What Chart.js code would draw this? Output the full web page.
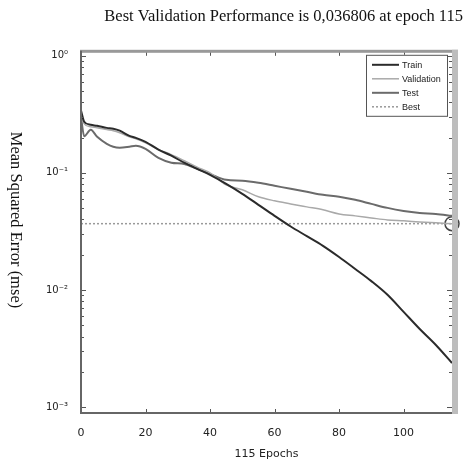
<!DOCTYPE html>
<html>
<head>
<meta charset="utf-8">
<script src="https://cdn.jsdelivr.net/npm/chart.js@4.4.0/dist/chart.umd.min.js"></script>
<style>
  html, body { margin: 0; padding: 0; background: #fff; }
  #wrap { width: 475px; height: 465px; }
</style>
</head>
<body>
<div id="wrap"><canvas id="perf"></canvas></div>
<script>
// --- Data ---
const epochs = [0, 1, 3, 5, 8, 10, 12, 15, 17, 20, 24, 28, 32, 36, 40, 45, 50, 55, 60, 65, 70, 75, 80, 85, 90, 95, 100, 105, 110, 115];
const trainMse = [0.34, 0.273, 0.257, 0.252, 0.242, 0.238, 0.229, 0.207, 0.199, 0.184, 0.158, 0.140, 0.122, 0.108, 0.0961, 0.0805, 0.0662, 0.0533, 0.0429, 0.0348, 0.0288, 0.0238, 0.0191, 0.0151, 0.0119, 0.0091, 0.0065, 0.00464, 0.00339, 0.00238];
const validationMse = [0.32, 0.262, 0.247, 0.243, 0.234, 0.229, 0.220, 0.203, 0.195, 0.180, 0.158, 0.143, 0.127, 0.112, 0.100, 0.0789, 0.0716, 0.0624, 0.0577, 0.0543, 0.0512, 0.0483, 0.0446, 0.0429, 0.0412, 0.0396, 0.0389, 0.0381, 0.0374, 0.036806];
const testMse = [0.30, 0.205, 0.233, 0.203, 0.177, 0.167, 0.164, 0.167, 0.170, 0.160, 0.134, 0.122, 0.119, 0.108, 0.098, 0.0871, 0.0855, 0.0822, 0.0775, 0.0730, 0.0689, 0.0649, 0.0624, 0.0588, 0.0543, 0.0502, 0.0473, 0.0455, 0.0446, 0.0429];
const bestEpoch = 115;
const bestMse = 0.036806;
const xTickValues = [0, 20, 40, 60, 80, 100];
const yTickValues = [0.001, 0.01, 0.1, 1];
const yTickLabels = ['10⁻³', '10⁻²', '10⁻¹', '10⁰'];
const seriesNames = ['Train', 'Validation', 'Test', 'Best'];
const yAxisTitle = 'Mean Squared Error (mse)';

const toPoints = (xs, ys) => xs.map((x, i) => ({ x: x, y: ys[i] }));

// --- MATLAB style frame, inner ticks, y title and legend ---
const framePlugin = {
    id: 'matlabFrame',
    afterDatasetsDraw(chart) {
        const { ctx, chartArea: a, scales: { x, y } } = chart;
        ctx.save();
        ctx.strokeStyle = '#555';
        ctx.lineWidth = 1;
        ctx.beginPath();
        xTickValues.forEach(v => {
            const px = Math.round(x.getPixelForValue(v)) + 0.5;
            ctx.moveTo(px, a.bottom); ctx.lineTo(px, a.bottom - 4);
            ctx.moveTo(px, a.top); ctx.lineTo(px, a.top + 4);
        });
        for (let d = -3; d <= 0; d++) {
            for (let k = 1; k <= 9; k++) {
                const v = k * Math.pow(10, d);
                if (v < y.min || v > y.max) continue;
                const py = Math.round(y.getPixelForValue(v)) + 0.5;
                const len = k === 1 ? 5 : 3;
                ctx.moveTo(a.left, py); ctx.lineTo(a.left + len, py);
                ctx.moveTo(a.right, py); ctx.lineTo(a.right - len, py);
            }
        }
        ctx.stroke();

        // box
        ctx.fillStyle = '#999';
        ctx.fillRect(a.left - 1, a.top - 2, a.right - a.left + 7, 3);
        ctx.fillStyle = '#bdbdbd';
        ctx.fillRect(a.right, a.top - 2, 6, a.bottom - a.top + 3);
        ctx.fillStyle = '#666';
        ctx.fillRect(a.left - 1, a.top - 1, 2, a.bottom - a.top + 1);
        ctx.fillRect(a.left - 1, a.bottom - 1, a.right - a.left + 1, 2);
        ctx.restore();
    },
    afterDraw(chart) {
        const { ctx, chartArea: a } = chart;
        ctx.save();
        // y axis title, reads top to bottom
        ctx.translate(15, 220);
        ctx.rotate(Math.PI / 2);
        ctx.font = '16.5px "Liberation Serif", serif';
        ctx.fillStyle = '#111';
        ctx.textAlign = 'center';
        ctx.textBaseline = 'middle';
        ctx.fillText(yAxisTitle, 0, 0);
        ctx.restore();

        const bx = a.right - 86, by = a.top + 3, bw = 81, bh = 61;
        ctx.save();
        ctx.fillStyle = '#fff';
        ctx.fillRect(bx, by, bw, bh);
        ctx.strokeStyle = '#555';
        ctx.lineWidth = 1;
        ctx.strokeRect(bx + 0.5, by + 0.5, bw, bh);
        ctx.font = '9px "Liberation Sans", Arial, sans-serif';
        ctx.textBaseline = 'middle';
        seriesNames.forEach((name, i) => {
            const ds = chart.data.datasets[i];
            const ry = by + 10 + i * 14;
            ctx.strokeStyle = ds.borderColor;
            ctx.lineWidth = ds.borderWidth;
            ctx.setLineDash(ds.borderDash || []);
            ctx.beginPath();
            ctx.moveTo(bx + 6, ry);
            ctx.lineTo(bx + 33, ry);
            ctx.stroke();
            ctx.setLineDash([]);
            ctx.fillStyle = '#222';
            ctx.fillText(name, bx + 36, ry + 0.5);
        });
        ctx.restore();
    }
};

// --- Chart ---
const ctx = document.getElementById('perf').getContext('2d');
new Chart(ctx, {
    type: 'line',
    data: {
        datasets: [
            { label: seriesNames[0], data: toPoints(epochs, trainMse), borderColor: '#2b2b2b', borderWidth: 2, pointRadius: 0, cubicInterpolationMode: 'monotone' },
            { label: seriesNames[1], data: toPoints(epochs, validationMse), borderColor: '#a9a9a9', borderWidth: 1.5, pointRadius: 0, cubicInterpolationMode: 'monotone' },
            { label: seriesNames[2], data: toPoints(epochs, testMse), borderColor: '#6b6b6b', borderWidth: 2, pointRadius: 0, cubicInterpolationMode: 'monotone' },
            { label: seriesNames[3], data: [{ x: 0, y: bestMse }, { x: bestEpoch, y: bestMse }], borderColor: '#999', borderWidth: 1.5, borderDash: [2, 2], pointRadius: 0 },
            { label: 'best point', data: [{ x: bestEpoch, y: bestMse }], showLine: false, pointRadius: 7, pointBorderWidth: 1.5, pointBorderColor: '#444', pointBackgroundColor: 'rgba(0,0,0,0)', clip: false }
        ]
    },
    options: {
        responsive: true,
        maintainAspectRatio: false,
        animation: false,
        events: [],
        layout: { padding: { left: 0, right: 12, top: 0, bottom: 0 } },
        plugins: {
            legend: { display: false },
            tooltip: { enabled: false },
            title: {
                display: true,
                text: 'Best Validation Performance is 0,036806 at epoch 115',
                align: 'end',
                color: '#111',
                font: { family: '"Liberation Serif", serif', size: 16.5, weight: 'normal' },
                padding: { top: 7, bottom: 25 }
            }
        },
        scales: {
            x: {
                type: 'linear',
                min: 0,
                max: 115,
                afterBuildTicks: s => { s.ticks = xTickValues.map(v => ({ value: v })); },
                afterFit: s => { s.height = 52; },
                grid: { display: false, drawTicks: false },
                border: { display: false },
                ticks: { color: '#222', padding: 14, maxRotation: 0, font: { family: '"DejaVu Sans", sans-serif', size: 11 } },
                title: { display: true, text: '115 Epochs', color: '#222', padding: { top: 2, bottom: 4 }, font: { family: '"DejaVu Sans", sans-serif', size: 11 } }
            },
            y: {
                type: 'logarithmic',
                min: 0.00089,
                max: 1.08,
                afterBuildTicks: s => { s.ticks = yTickValues.map(v => ({ value: v })); },
                afterFit: s => { s.width = 81; },
                grid: { display: false, drawTicks: false },
                border: { display: false },
                ticks: {
                    color: '#222',
                    padding: 13,
                    font: { family: '"DejaVu Sans", sans-serif', size: 10 },
                    callback: v => yTickLabels[yTickValues.indexOf(v)] ?? ''
                }
            },
            yRight: {
                type: 'linear',
                position: 'right',
                display: true,
                afterFit: s => { s.width = 11; },
                grid: { display: false, drawTicks: false },
                border: { display: false },
                ticks: { display: false }
            }
        }
    },
    plugins: [framePlugin]
});
</script>
</body>
</html>
